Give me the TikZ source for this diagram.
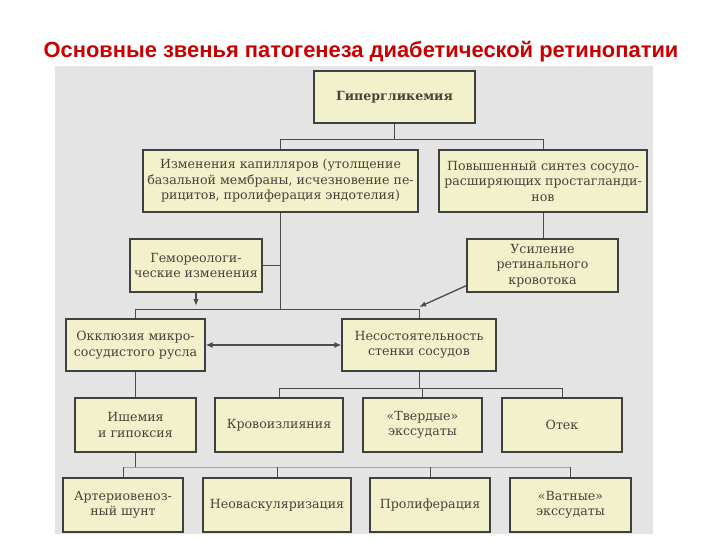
\documentclass[tikz,border=0pt]{standalone}
\usepackage{fontspec}
\setmainfont{DejaVu Serif}
\newfontfamily\titlefont{Liberation Sans}
\usetikzlibrary{arrows.meta}

\definecolor{boxfill}{RGB}{243,240,204}
\definecolor{scan}{RGB}{228,228,228}
\definecolor{titlered}{RGB}{200,0,0}
\definecolor{ink}{RGB}{72,66,58}

\begin{document}
\begin{tikzpicture}[x=1pt, y=-1pt,
                    box/.style={draw=black!75, line width=1.1pt, fill=boxfill,
                                align=center, text=ink, inner sep=0pt,
                                font=\fontsize{12.6}{15.5}\selectfont},
                    link/.style={draw=black!70, line width=0.9pt},
                    arr/.style={link, line width=1.3pt, -{Latex[length=7pt,width=5.5pt]}}]
  \useasboundingbox (0,0) rectangle (720,540);
  \fill[scan] (55,66) rectangle (653,534);

  \node[font=\titlefont\bfseries\fontsize{21.9}{26}\selectfont, text=titlered, anchor=base]
    (title) at (361,58) {Основные звенья патогенеза диабетической ретинопатии};

  % first rows
  \node[box, minimum width=161pt, minimum height=52pt] (hyper) at (394.5,97) {\bfseries Гипергликемия};
  \node[box, minimum width=275pt, minimum height=62pt] (kap) at (280.5,181)
    {Изменения капилляров (утолщение\\базальной мембраны, исчезновение пе-\\рицитов, пролиферация эндотелия)};
  \node[box, minimum width=208pt, minimum height=62pt] (sint) at (543,181)
    {Повышенный синтез сосудо-\\расширяющих простагланди-\\нов};
  \node[box, minimum width=132pt, minimum height=53pt] (gemo) at (196,265.5)
    {Гемореологи-\\ческие изменения};
  \node[box, minimum width=151pt, minimum height=53pt] (usil) at (542.5,265.5)
    {Усиление\\ретинального\\кровотока};
  \node[box, minimum width=139pt, minimum height=52pt] (okkl) at (135.5,345)
    {Окклюзия микро-\\сосудистого русла};
  \node[box, minimum width=154pt, minimum height=52pt] (nesost) at (419,345)
    {Несостоятельность\\стенки сосудов};

  % lower rows
  \node[box, minimum width=121pt, minimum height=54pt] (ishem) at (135.5,425) {Ишемия\\и гипоксия};
  \node[box, minimum width=128pt, minimum height=54pt] (krovo) at (279,425) {Кровоизлияния};
  \node[box, minimum width=119pt, minimum height=54pt] (tverd) at (422.5,425) {«Твердые»\\экссудаты};
  \node[box, minimum width=120pt, minimum height=54pt] (otek) at (562,425) {Отек};
  \node[box, minimum width=120pt, minimum height=54pt] (arter) at (123,505) {Артериовеноз-\\ный шунт};
  \node[box, minimum width=148pt, minimum height=54pt] (neovask) at (277,505) {Неоваскуляризация};
  \node[box, minimum width=120pt, minimum height=54pt] (prolif) at (430,505) {Пролиферация};
  \node[box, minimum width=121pt, minimum height=54pt] (vatnye) at (570.5,505) {«Ватные»\\экссудаты};

  \coordinate (j1) at (0,139);
  \coordinate (j2) at (0,309);
  \coordinate (j3) at (0,388);
  \coordinate (j4) at (0,467);

  % connectors
  \draw[link] (hyper.south) -- (hyper.south |- j1);
  \draw[link] (kap.north) -- (kap.north |- j1) -- (sint.north |- j1) -- (sint.north);
  \draw[link] (sint.south) -- (sint.south |- usil.north);
  \draw[link] (kap.south) -- (kap.south |- j2);
  \draw[link] (gemo.east) -- (gemo.east -| kap.south);
  \draw[link] (okkl.north) -- (okkl.north |- j2) -- (nesost.north |- j2) -- (nesost.north);
  \draw[arr] (gemo.south) -- ([yshift=3pt]gemo.south |- j2);
  \draw[arr] ([yshift=7pt]usil.south west) -- ([yshift=2pt]nesost.north |- j2);
  \draw[arr, {Latex[length=7pt,width=6pt]}-{Latex[length=7pt,width=6pt]}, line width=1.8pt]
    (okkl.east) -- (nesost.west);

  \draw[link] (okkl.south) -- (ishem.north);
  \draw[link] (nesost.south) -- (nesost.south |- j3);
  \draw[link] (krovo.north) -- (krovo.north |- j3) -- (otek.north |- j3) -- (otek.north);
  \draw[link] (tverd.north |- j3) -- (tverd.north);

  \draw[link] (ishem.south) -- (ishem.south |- j4);
  \draw[link, draw=black!35] (arter.north |- j4) -- (vatnye.north |- j4);
  \foreach \n in {arter, neovask, prolif, vatnye}
    \draw[link] (\n.north |- j4) -- (\n.north);
\end{tikzpicture}
\end{document}
